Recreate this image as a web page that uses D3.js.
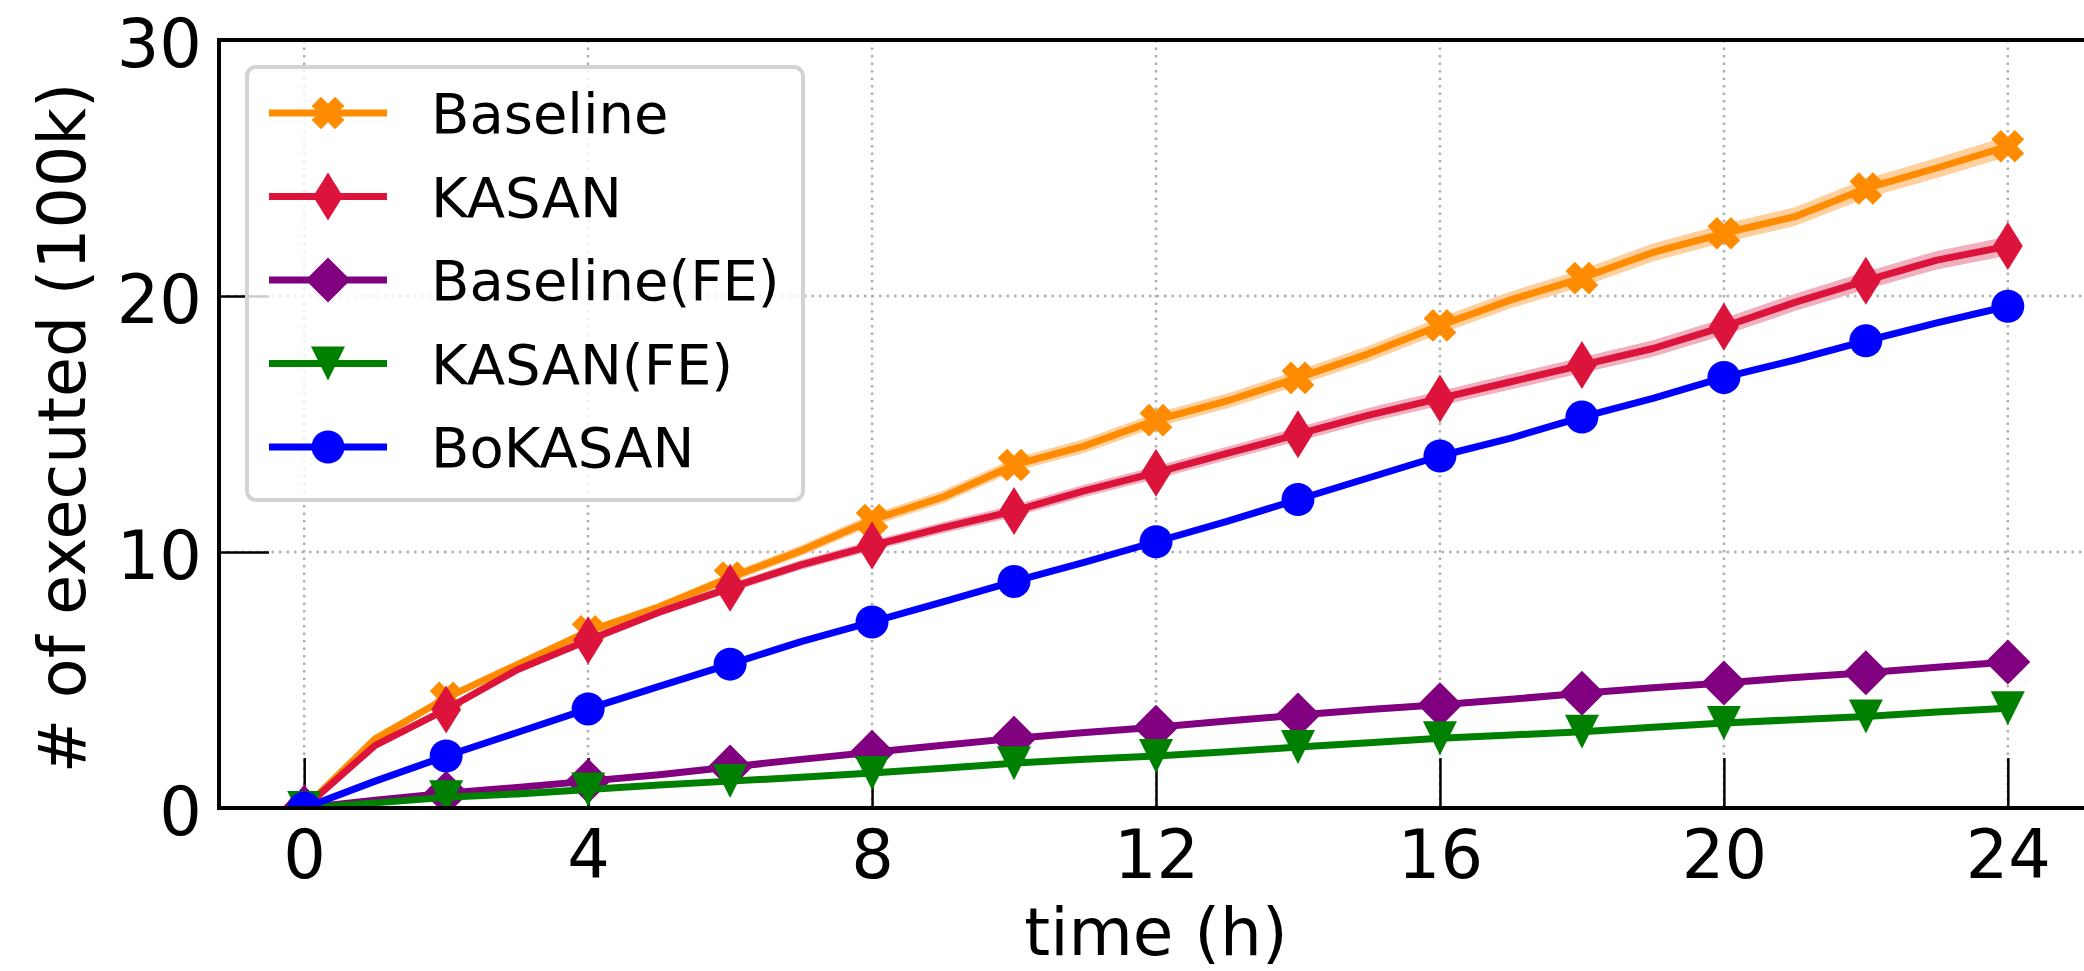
<!DOCTYPE html>
<html>
<head>
<meta charset="utf-8">
<script src="https://cdn.jsdelivr.net/npm/d3@7"></script>
<style>
  html, body { margin: 0; padding: 0; background: #fff; }
  svg { display: block; }
</style>
</head>
<body>
<div id="app"></div>
<script>
// hours since start
const hours = [0, 1, 2, 3, 4, 5, 6, 7, 8, 9, 10, 11, 12, 13, 14, 15, 16, 17, 18, 19, 20, 21, 22, 23, 24]

// # of executed (100k)
const baseline = [0, 2.7, 4.3, 5.6, 6.9, 7.85, 9.0, 10.05, 11.25, 12.15, 13.4, 14.15, 15.15, 15.9, 16.8,
    17.75, 18.85, 19.85, 20.7, 21.7, 22.45, 23.1, 24.2, 25.0, 25.85]
const kasan = [0, 2.45, 3.85, 5.4, 6.55, 7.65, 8.6, 9.5, 10.25, 10.95, 11.6, 12.4, 13.1, 13.85, 14.6,
    15.35, 16.0, 16.65, 17.3, 17.95, 18.8, 19.75, 20.6, 21.4, 21.95]
const baselineFE = [0, 0.3, 0.58, 0.8, 1.05, 1.3, 1.6, 1.9, 2.18, 2.45, 2.72, 2.95, 3.15, 3.4, 3.63,
    3.85, 4.03, 4.25, 4.48, 4.7, 4.88, 5.1, 5.28, 5.5, 5.7]
const kasanFE = [0, 0.2, 0.42, 0.55, 0.72, 0.9, 1.05, 1.2, 1.37, 1.55, 1.75, 1.9, 2.03, 2.2, 2.38,
    2.55, 2.72, 2.85, 2.98, 3.15, 3.32, 3.45, 3.57, 3.75, 3.9]
const bokasan = [0, 1.05, 2.03, 2.95, 3.87, 4.75, 5.62, 6.5, 7.27, 8.05, 8.85, 9.6, 10.4, 11.2, 12.05,
    12.9, 13.75, 14.45, 15.27, 16.0, 16.82, 17.5, 18.25, 18.95, 19.6]

// spread bands (half width) for the two shaded series
const baselineErr = [0, 0.06, 0.1, 0.12, 0.15, 0.17, 0.19, 0.21, 0.23, 0.25, 0.26, 0.27, 0.28, 0.29, 0.3,
    0.31, 0.32, 0.33, 0.34, 0.35, 0.36, 0.37, 0.38, 0.39, 0.4]
const kasanErr = [0, 0.06, 0.09, 0.11, 0.13, 0.15, 0.17, 0.19, 0.2, 0.22, 0.23, 0.24, 0.25, 0.26, 0.27,
    0.28, 0.29, 0.3, 0.31, 0.32, 0.33, 0.34, 0.35, 0.36, 0.37]

const xTicks = [0, 4, 8, 12, 16, 20, 24]
const yTicks = [0, 10, 20, 30]

// marker shapes (matplotlib-like), unit coords scaled by sqrt(size)
const poly = pts => ({
    draw(ctx, size) {
        const s = Math.sqrt(size)
        pts.forEach(([px, py], i) => i ? ctx.lineTo(px * s, py * s) : ctx.moveTo(px * s, py * s))
        ctx.closePath()
    }
})
const plusPts = [[-1, -0.4], [-1, 0.4], [-0.4, 0.4], [-0.4, 1], [0.4, 1], [0.4, 0.4], [1, 0.4], [1, -0.4],
    [0.4, -0.4], [0.4, -1], [-0.4, -1], [-0.4, -0.4]]
const symX = poly(plusPts.map(([a, b]) => [(a - b) / Math.SQRT2, (a + b) / Math.SQRT2]))
const symThinDiamond = poly([[0, -1], [0.62, 0], [0, 1], [-0.62, 0]])
const symDiamond = poly([[0, -1], [1, 0], [0, 1], [-1, 0]])
const symTriDown = poly([[-1, -1], [1, -1], [0, 1]])
const symCircle = {
    draw(ctx, size) {
        const r = Math.sqrt(size)
        ctx.moveTo(r, 0)
        ctx.arc(0, 0, r, 0, 2 * Math.PI)
    }
}

const series = [
    {name: 'Baseline', values: baseline, err: baselineErr, color: '#ff8c00', band: '#ffcf9e', symbol: symX, size: 16.5 ** 2},
    {name: 'KASAN', values: kasan, err: kasanErr, color: '#dc143c', band: '#f0b0be', symbol: symThinDiamond, size: 24 ** 2},
    {name: 'Baseline(FE)', values: baselineFE, color: '#800080', symbol: symDiamond, size: 22.5 ** 2},
    {name: 'KASAN(FE)', values: kasanFE, color: '#008000', symbol: symTriDown, size: 17 ** 2},
    {name: 'BoKASAN', values: bokasan, color: '#0000ff', symbol: symCircle, size: 16.5 ** 2},
]

const width = 2084, height = 971
const plotLeft = 219, plotRight = 2093, plotTop = 40, plotBottom = 808
const font = 'DejaVu Sans, sans-serif'

const x = d3.scaleLinear().domain([-1.2, 25.2]).range([plotLeft, plotRight])
const y = d3.scaleLinear().domain([0, 30]).range([plotBottom, plotTop])

const svg = d3.select('#app').append('svg')
    .attr('width', width)
    .attr('height', height)
    .attr('font-family', font)

svg.append('clipPath').attr('id', 'plot-clip')
    .append('rect')
    .attr('x', plotLeft).attr('y', plotTop)
    .attr('width', plotRight - plotLeft).attr('height', plotBottom - plotTop)

// grid
const grid = svg.append('g')
    .attr('stroke', '#b0b0b0')
    .attr('stroke-width', 2.5)
    .attr('stroke-dasharray', '2.5,5')
grid.selectAll('.gx').data(xTicks).join('line')
    .attr('x1', d => x(d)).attr('x2', d => x(d))
    .attr('y1', plotTop).attr('y2', plotBottom)
grid.selectAll('.gy').data(yTicks.slice(1, -1)).join('line')
    .attr('x1', plotLeft).attr('x2', plotRight)
    .attr('y1', d => y(d)).attr('y2', d => y(d))

// axes (ticks inside)
const xAxis = svg.append('g')
    .attr('transform', `translate(0,${plotBottom})`)
    .call(d3.axisBottom(x).tickValues(xTicks).tickSize(-50).tickPadding(22))
xAxis.select('.domain').remove()
xAxis.selectAll('line').attr('stroke', '#000').attr('stroke-width', 2.5)
xAxis.selectAll('text').attr('font-size', 67).attr('font-family', font).attr('fill', '#000')

const yAxis = svg.append('g')
    .attr('transform', `translate(${plotLeft},0)`)
    .call(d3.axisLeft(y).tickValues(yTicks).tickSize(-50).tickPadding(17))
yAxis.select('.domain').remove()
yAxis.selectAll('line').attr('stroke', '#000').attr('stroke-width', 2.5)
yAxis.selectAll('text').attr('font-size', 67).attr('font-family', font).attr('fill', '#000')
    .attr('dy', '0.4em')

// series
const plot = svg.append('g').attr('clip-path', 'url(#plot-clip)')
const line = d3.line().x((d, i) => x(hours[i])).y(d => y(d))
const area = d3.area()
    .x((d, i) => x(hours[i]))
    .y0(d => y(d[0]))
    .y1(d => y(d[1]))

for (const s of series) {
    const g = plot.append('g')
    if (s.err) {
        g.append('path')
            .datum(s.values.map((v, i) => [v - s.err[i], v + s.err[i]]))
            .attr('fill', s.band)
            .attr('d', area)
    }
    g.append('path')
        .datum(s.values)
        .attr('fill', 'none')
        .attr('stroke', s.color)
        .attr('stroke-width', 7)
        .attr('stroke-linejoin', 'round')
        .attr('d', line)
    g.selectAll('path.marker')
        .data(s.values.filter((v, i) => i % 2 === 0))
        .join('path')
        .attr('class', 'marker')
        .attr('transform', (d, i) => `translate(${x(hours[i * 2])},${y(d)})`)
        .attr('fill', s.color)
        .attr('d', d3.symbol().type(s.symbol).size(s.size))
}

// spines
svg.append('rect')
    .attr('x', plotLeft).attr('y', plotTop)
    .attr('width', plotRight - plotLeft).attr('height', plotBottom - plotTop)
    .attr('fill', 'none')
    .attr('stroke', '#000')
    .attr('stroke-width', 4)

// axis labels
svg.append('text')
    .attr('x', (plotLeft + plotRight) / 2)
    .attr('y', 955)
    .attr('text-anchor', 'middle')
    .attr('font-size', 66)
    .text('time (h)')

svg.append('text')
    .attr('transform', `translate(85,${(plotTop + plotBottom) / 2 + 4}) rotate(-90)`)
    .attr('text-anchor', 'middle')
    .attr('font-size', 65)
    .text('# of executed (100k)')

// legend
const legend = svg.append('g')
legend.append('rect')
    .attr('x', 247).attr('y', 67)
    .attr('width', 556).attr('height', 433)
    .attr('rx', 9)
    .attr('fill', '#fff').attr('fill-opacity', 0.8)
    .attr('stroke', '#d3d3d3').attr('stroke-width', 4)

const rows = legend.selectAll('g.row')
    .data(series)
    .join('g')
    .attr('class', 'row')
    .attr('transform', (d, i) => `translate(0,${113 + i * 83.5})`)
rows.append('line')
    .attr('x1', 269).attr('x2', 387)
    .attr('stroke', d => d.color)
    .attr('stroke-width', 7)
rows.append('path')
    .attr('transform', 'translate(328,0)')
    .attr('fill', d => d.color)
    .attr('d', d => d3.symbol().type(d.symbol).size(d.size)())
rows.append('text')
    .attr('x', 431)
    .attr('y', 20)
    .attr('font-size', 56)
    .text(d => d.name)
</script>
</body>
</html>
